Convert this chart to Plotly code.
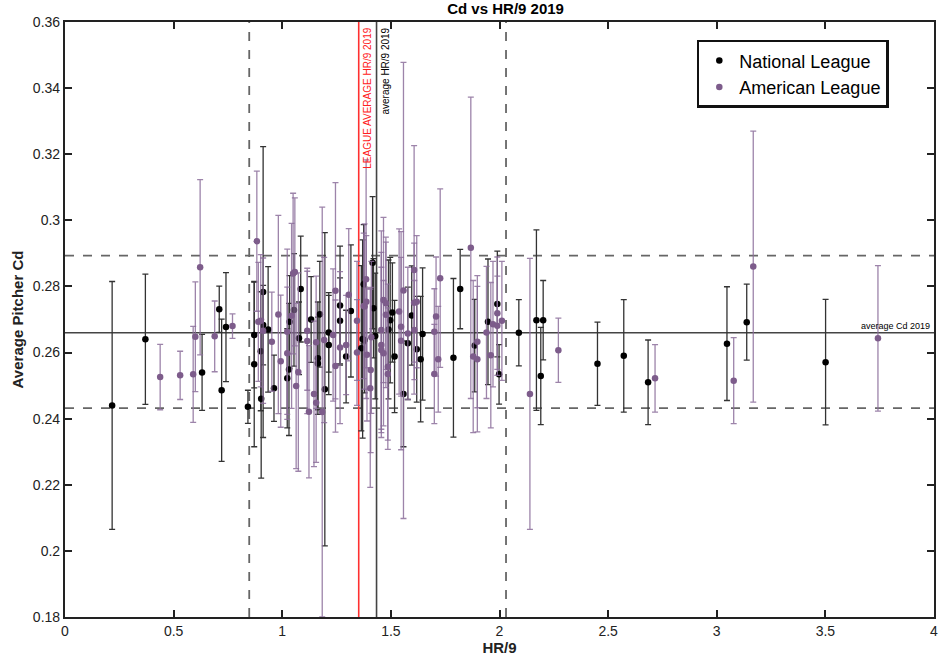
import plotly.graph_objects as go

# ---------------- data ----------------
nl_hr9 = [0.217, 0.370, 0.631, 0.710, 0.721, 0.741, 0.842, 0.871, 0.871, 0.912, 0.912, 0.901, 0.903,
          0.935, 0.962, 1.023, 1.031, 1.034, 1.054, 1.085, 1.077, 1.133, 1.164, 1.164, 1.173, 1.196,
          1.214, 1.214, 1.266, 1.266, 1.294, 1.316, 1.364, 1.375, 1.379, 1.420, 1.428, 1.416, 1.370,
          1.507, 1.497, 1.489, 1.517, 1.558, 1.578, 1.596, 1.619, 1.637, 1.646, 1.788, 1.819, 1.886,
          1.947, 1.990, 1.998, 2.089, 2.170, 2.201, 2.190, 2.451, 2.572, 2.684, 3.047, 3.138, 3.501]
nl_cd = [0.2440, 0.2640, 0.2540, 0.2731, 0.2486, 0.2677, 0.2436, 0.2653, 0.2565, 0.2783, 0.2683, 0.2604, 0.2460,
         0.2670, 0.2492, 0.2522, 0.2549, 0.2693, 0.2729, 0.2792, 0.2643, 0.2700, 0.2583, 0.2567, 0.2716, 0.2489,
         0.2661, 0.2623, 0.2742, 0.2696, 0.2588, 0.2726, 0.2613, 0.2807, 0.2638, 0.2734, 0.2650, 0.2872, 0.2641,
         0.2721, 0.2698, 0.2670, 0.2588, 0.2475, 0.2628, 0.2712, 0.2610, 0.2580, 0.2656, 0.2584, 0.2792, 0.2621,
         0.2693, 0.2747, 0.2534, 0.2660, 0.2698, 0.2698, 0.2529, 0.2566, 0.2590, 0.2510, 0.2627, 0.2692, 0.2571]
nl_err = [0.0375, 0.0197, 0.0115, 0.0070, 0.0215, 0.0165, 0.0050, 0.0160, 0.0250, 0.0440, 0.0120, 0.0180, 0.0240,
          0.0190, 0.0100, 0.0150, 0.0200, 0.0140, 0.0170, 0.0160, 0.0110, 0.0130, 0.0170, 0.0140, 0.0160, 0.0474,
          0.0120, 0.0150, 0.0180, 0.0130, 0.0140, 0.0200, 0.0250, 0.0180, 0.0160, 0.0150, 0.0190, 0.0200, 0.0300,
          0.0150, 0.0190, 0.0210, 0.0170, 0.0160, 0.0170, 0.0150, 0.0160, 0.0190, 0.0200, 0.0240, 0.0120, 0.0140,
          0.0190, 0.0160, 0.0090, 0.0100, 0.0273, 0.0120, 0.0147, 0.0126, 0.0170, 0.0128, 0.0172, 0.0115, 0.0190]

al_hr9 = [0.438, 0.530, 0.590, 0.600, 0.622, 0.689, 0.771, 0.883, 0.890, 0.901, 0.912, 0.952, 0.982, 0.993,
          1.023, 1.023, 1.043, 1.050, 1.058, 1.064, 1.074, 1.115, 1.115, 1.123, 1.146, 1.156, 1.156, 1.184,
          1.193, 1.234, 1.245, 1.245, 1.266, 1.294, 1.306, 1.344, 1.344, 1.386, 1.387, 1.379, 1.390, 1.410,
          1.405, 1.375, 1.407, 1.466, 1.477, 1.477, 1.456, 1.456, 1.456, 1.466, 1.486, 1.486, 1.538, 1.547,
          1.547, 1.558, 1.578, 1.607, 1.607, 1.619, 1.608, 1.700, 1.708, 1.718, 1.700, 1.727, 1.868, 1.879,
          1.898, 1.898, 1.940, 1.960, 1.970, 1.990, 1.990, 2.011, 2.140, 2.271, 2.716, 3.078, 3.168, 3.742]
al_cd = [0.2526, 0.2531, 0.2534, 0.2648, 0.2858, 0.2649, 0.2680, 0.2937, 0.2693, 0.2696, 0.2666, 0.2633, 0.2715, 0.2574,
         0.2663, 0.2598, 0.2711, 0.2839, 0.2844, 0.2499, 0.2541, 0.2666, 0.2635, 0.2421, 0.2475, 0.2631, 0.2448, 0.2420,
         0.2638, 0.2653, 0.2787, 0.2559, 0.2615, 0.2623, 0.2775, 0.2696, 0.2600, 0.2822, 0.2754, 0.2739, 0.2593, 0.2646,
         0.2492, 0.2741, 0.2547, 0.2759, 0.2749, 0.2714, 0.2668, 0.2623, 0.2608, 0.2598, 0.2557, 0.2535, 0.2724, 0.2678,
         0.2636, 0.2788, 0.2658, 0.2850, 0.2751, 0.2754, 0.2668, 0.2663, 0.2709, 0.2580, 0.2535, 0.2825, 0.2917, 0.2588,
         0.2633, 0.2580, 0.2661, 0.2592, 0.2686, 0.2719, 0.2681, 0.2696, 0.2475, 0.2607, 0.2522, 0.2515, 0.2860, 0.2643]
al_err = [0.0099, 0.0073, 0.0145, 0.0166, 0.0265, 0.0107, 0.0037, 0.0212, 0.0180, 0.0200, 0.0220, 0.0150, 0.0300, 0.0200,
          0.0250, 0.0200, 0.0280, 0.0243, 0.0224, 0.0250, 0.0300, 0.0180, 0.0220, 0.0200, 0.0220, 0.0200, 0.0180, 0.0620,
          0.0250, 0.0200, 0.0327, 0.0200, 0.0230, 0.0150, 0.0200, 0.0180, 0.0160, 0.0361, 0.0200, 0.0250, 0.0200, 0.0230,
          0.0300, 0.0220, 0.0250, 0.0250, 0.0200, 0.0220, 0.0300, 0.0280, 0.0250, 0.0220, 0.0250, 0.0200, 0.0250, 0.0210,
          0.0330, 0.0690, 0.0200, 0.0376, 0.0180, 0.0200, 0.0150, 0.0130, 0.0180, 0.0160, 0.0150, 0.0270, 0.0456, 0.0230,
          0.0200, 0.0220, 0.0200, 0.0220, 0.0190, 0.0170, 0.0150, 0.0180, 0.0410, 0.0097, 0.0102, 0.0130, 0.0410, 0.0220]

avg_hr9 = 1.434
league_avg_hr9 = 1.352
hr9_sd_low, hr9_sd_high = 0.848, 2.03
avg_cd = 0.2660
cd_sd_low, cd_sd_high = 0.2432, 0.2893

x_ticks = [0, 0.5, 1, 1.5, 2, 2.5, 3, 3.5, 4]
x_tick_labels = ["0", "0.5", "1", "1.5", "2", "2.5", "3", "3.5", "4"]
y_ticks = [0.18, 0.2, 0.22, 0.24, 0.26, 0.28, 0.3, 0.32, 0.34, 0.36]
y_tick_labels = ["0.18", "0.2", "0.22", "0.24", "0.26", "0.28", "0.3", "0.32", "0.34", "0.36"]

# ---------------- figure ----------------
FONT = "Liberation Sans, Arial, Helvetica, sans-serif"
purple = "#7D5C8B"
purple_bar = "rgba(140,110,155,0.85)"

fig = go.Figure()

# reference lines
ref_dash = dict(color="#666666", width=1.8, dash="dash")
for xv in [hr9_sd_low, hr9_sd_high]:
    fig.add_shape(type="line", xref="x", yref="paper", x0=xv, x1=xv, y0=0, y1=1, line=ref_dash, layer="below")
for yv in [cd_sd_low, cd_sd_high]:
    fig.add_shape(type="line", xref="paper", yref="y", x0=0, x1=1, y0=yv, y1=yv, line=ref_dash, layer="below")
fig.add_shape(type="line", xref="paper", yref="y", x0=0, x1=1, y0=avg_cd, y1=avg_cd,
              line=dict(color="#444444", width=1.6), layer="below")
fig.add_shape(type="line", xref="x", yref="paper", x0=league_avg_hr9, x1=league_avg_hr9, y0=0, y1=1,
              line=dict(color="#FF3030", width=1.6), layer="below")
fig.add_shape(type="line", xref="x", yref="paper", x0=avg_hr9, x1=avg_hr9, y0=0, y1=1,
              line=dict(color="#444444", width=1.6), layer="below")

fig.add_trace(go.Scatter(
    x=nl_hr9, y=nl_cd, mode="markers", name="National League",
    marker=dict(color="black", size=6.5),
    error_y=dict(type="data", array=nl_err, visible=True, color="#333333", thickness=1.3, width=3),
))
fig.add_trace(go.Scatter(
    x=al_hr9, y=al_cd, mode="markers", name="American League",
    marker=dict(color=purple, size=6.5),
    error_y=dict(type="data", array=al_err, visible=True, color=purple_bar, thickness=1.3, width=3),
))

fig.add_annotation(x=league_avg_hr9, y=1, xref="x", yref="paper", text="LEAGUE AVERAGE HR/9 2019",
                   textangle=-90, showarrow=False, xanchor="left", yanchor="top", xshift=1, yshift=-4,
                   font=dict(family=FONT, size=10, color="#FF2020"))
fig.add_annotation(x=avg_hr9, y=1, xref="x", yref="paper", text="average HR/9 2019",
                   textangle=-90, showarrow=False, xanchor="left", yanchor="top", xshift=1, yshift=-4,
                   font=dict(family=FONT, size=10, color="black"))
fig.add_annotation(x=1, y=avg_cd, xref="paper", yref="y", text="average Cd 2019",
                   showarrow=False, xanchor="right", yanchor="bottom", xshift=-2, yshift=0,
                   font=dict(family=FONT, size=9, color="black"))

axis_common = dict(showline=True, linecolor="#222222", linewidth=2.2, mirror="ticks",
                   ticks="inside", ticklen=7, tickwidth=2.2, tickcolor="#222222",
                   showgrid=False, zeroline=False,
                   tickfont=dict(family=FONT, size=14, color="#222222"))

fig.update_layout(
    width=948, height=665,
    margin=dict(l=65, r=10, t=22, b=48),
    paper_bgcolor="white", plot_bgcolor="white",
    title=dict(text="<b>Cd vs HR/9 2019</b>", x=0.507, xref="paper", xanchor="center",
               y=1, yref="container", yanchor="top", pad=dict(t=3),
               font=dict(family=FONT, size=15, color="black")),
    xaxis=dict(range=[0, 4], tickvals=x_ticks, ticktext=x_tick_labels,
               title=dict(text="<b>HR/9</b>", font=dict(family=FONT, size=15, color="#222222"), standoff=3),
               **axis_common),
    yaxis=dict(range=[0.18, 0.36], tickvals=y_ticks, ticktext=y_tick_labels,
               title=dict(text="<b>Average Pitcher Cd</b>", font=dict(family=FONT, size=15, color="#222222"), standoff=6),
               **axis_common),
    legend=dict(x=0.948, y=0.970, xanchor="right", yanchor="top",
                bgcolor="white", bordercolor="#111111", borderwidth=2.5,
                font=dict(family=FONT, size=18, color="black"), itemwidth=30,
                tracegroupgap=0),
    showlegend=True,
)

fig.write_html("out.html")
